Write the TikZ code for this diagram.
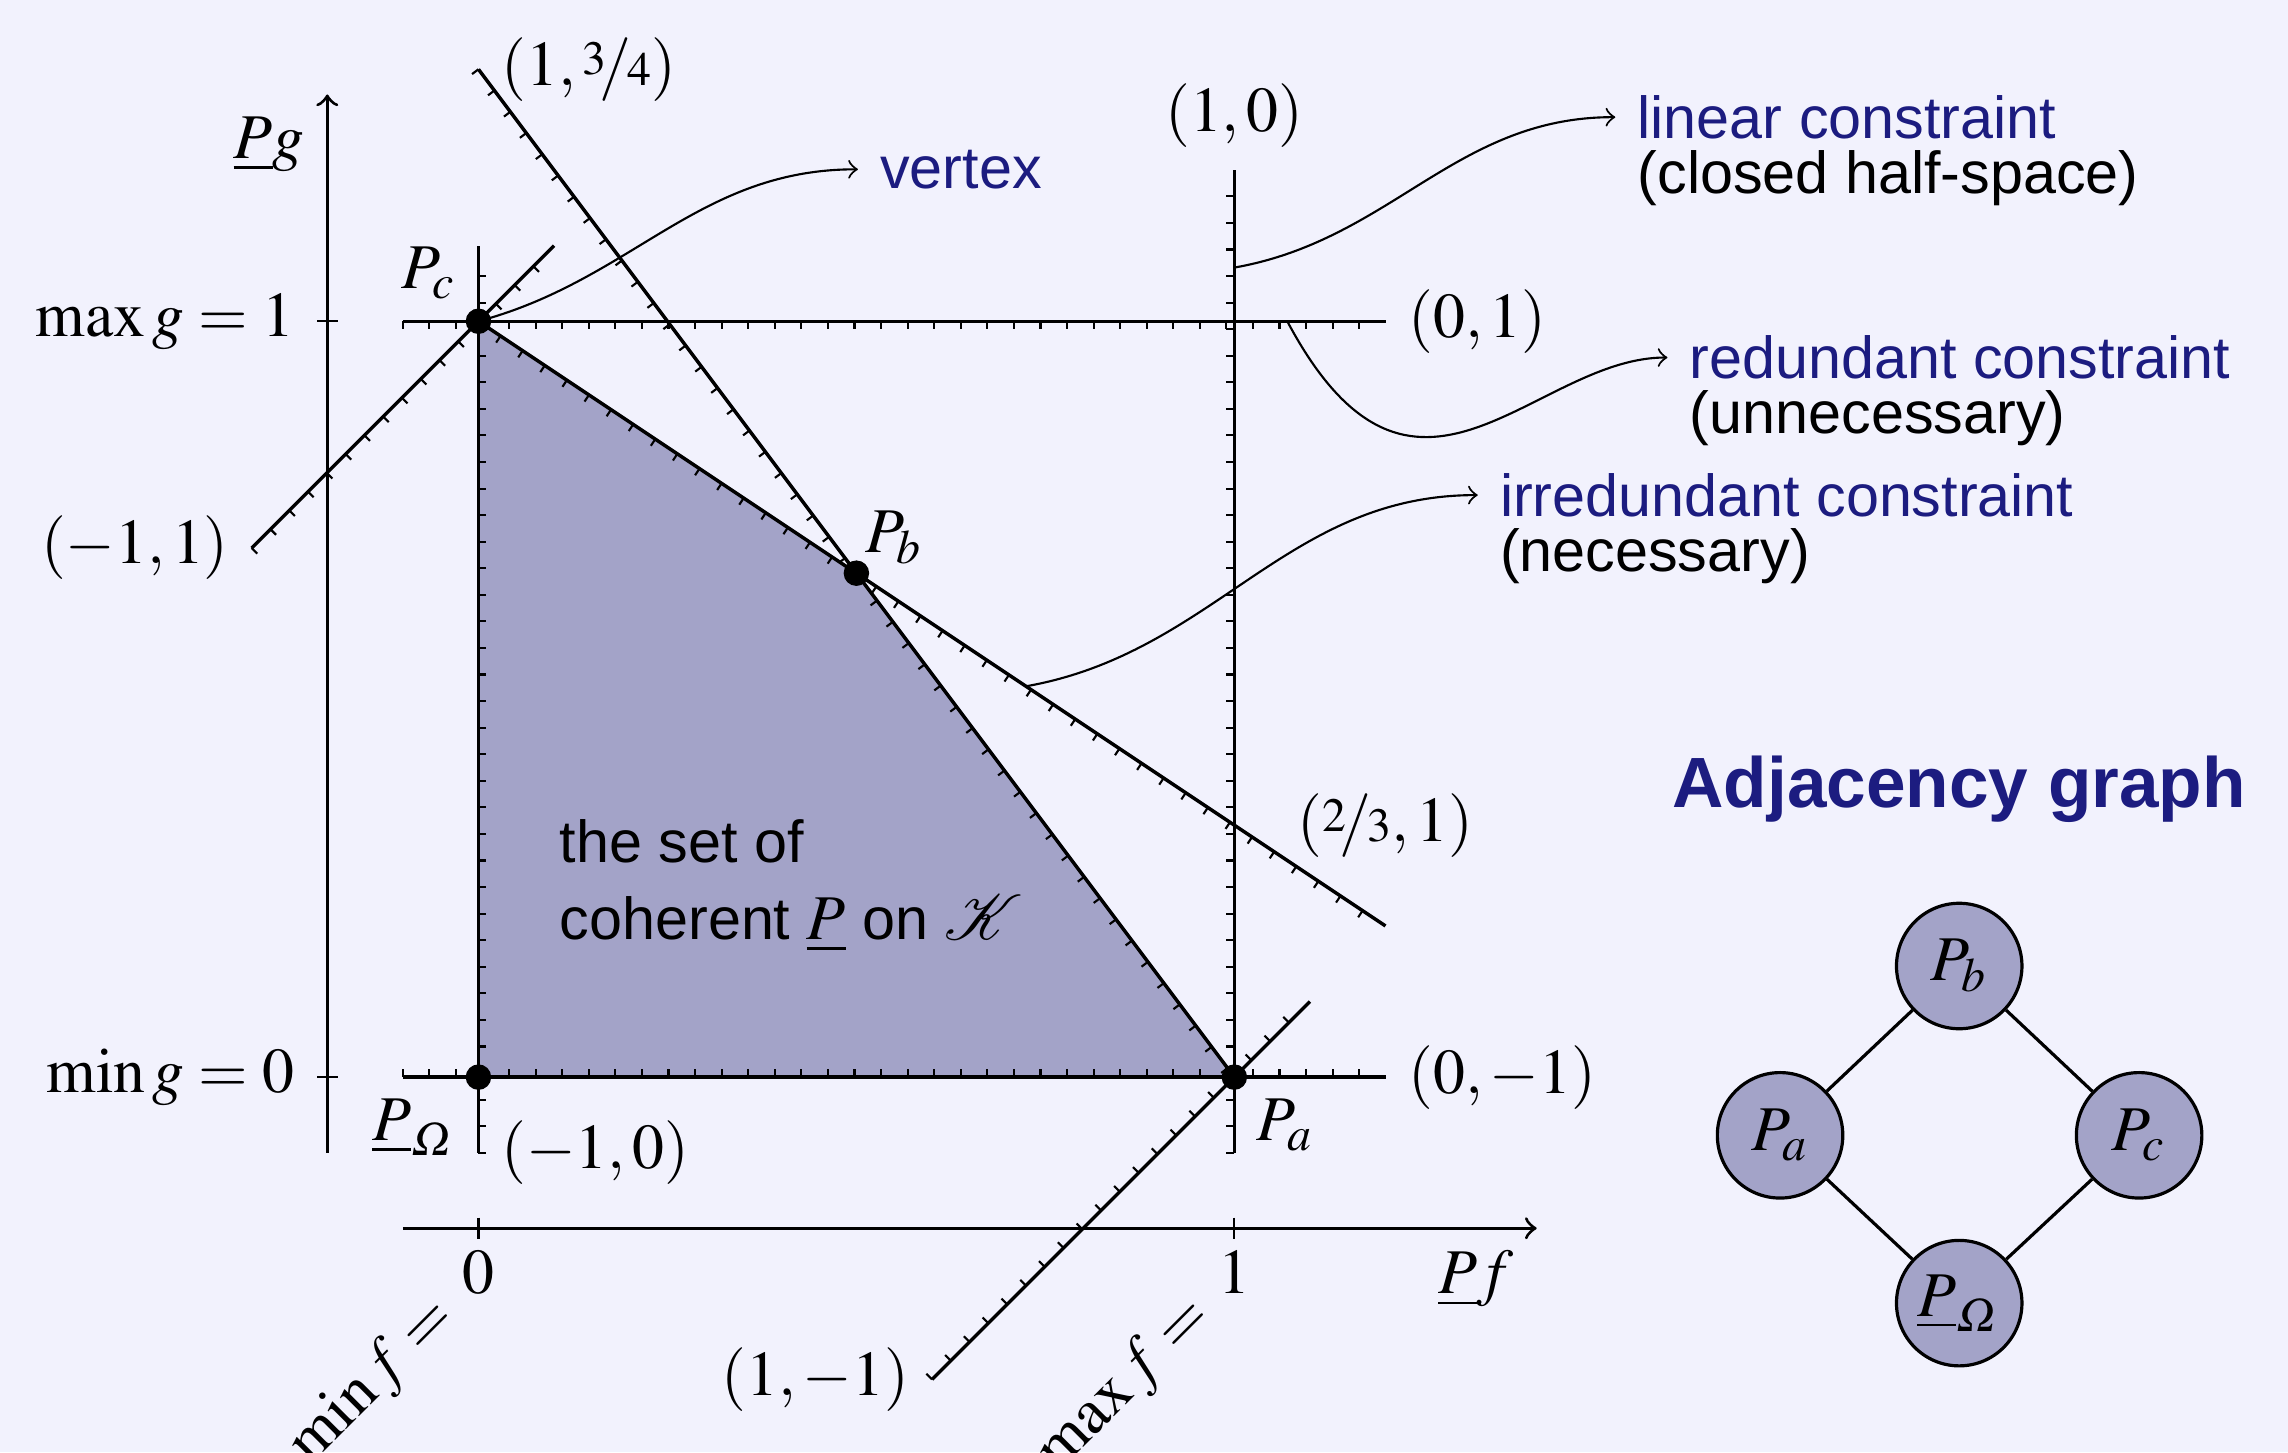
\documentclass[12pt,tikz,border=0pt]{standalone}
\usepackage[no-math]{fontspec}
\setsansfont{Liberation Sans}[Scale=0.93]
\usepackage[slantedGreek]{mathptmx}
\usepackage{mathrsfs}
\usepackage{nicefrac}
\usetikzlibrary{decorations.pathreplacing,calc}
\definecolor{bgcol}{RGB}{242,242,253}
\definecolor{setcol}{RGB}{163,163,200}
\definecolor{notecol}{RGB}{28,28,128}

\begin{document}
\begin{tikzpicture}[x=5cm,y=5cm,
  axis/.style={->,semithick},
  hatchl/.style={line width=0.65pt,postaction={draw,thin,decorate,decoration={border,segment length=5pt,amplitude=1.5pt,angle=90}}},
  hatchr/.style={line width=0.65pt,postaction={draw,thin,decorate,decoration={border,segment length=5pt,amplitude=1.5pt,angle=-90}}},
  note/.style={font=\sffamily,text=notecol},
  sub/.style={font=\sffamily},
  annot/.style={->,thin},
  vert/.style={circle,draw,semithick,fill=setcol,minimum size=0.83cm,inner sep=0pt}]
\path[use as bounding box,fill=bgcol] (-0.633,-0.496) rectangle (2.394,1.425);

\coordinate (Po) at (0,0); \coordinate (Pa) at (1,0);
\coordinate (Pb) at (0.5,0.6667); \coordinate (Pc) at (0,1);
\fill[setcol] (Po)--(Pc)--(Pb)--(Pa)--cycle;

% axes
\draw[axis] (-0.1,-0.2)--(1.4,-0.2) node[below left] (xlab) {$\underline{P}f$};
\draw[axis] (-0.2,-0.1)--(-0.2,1.3) node[below left] (ylab) {$\underline{P}g$};
\draw[thin] (-0.2,1) ++(2pt,0)--++(-4pt,0) node[left] (gmax) {$\max g=1$};
\draw[thin] (-0.2,0) ++(2pt,0)--++(-4pt,0) node[left] (gmin) {$\min g=0$};
\draw[thin] (0,-0.2) ++(0,2pt)--++(0,-4pt) node[below,inner sep=2pt] (fmin) {$0$};
\draw[thin] (1,-0.2) ++(0,2pt)--++(0,-4pt) node[below,inner sep=2pt] (fmax) {$1$};
\node[rotate=45,anchor=east] (fminlab) at (-0.022,-0.285) {$\min f=$};
\node[rotate=45,anchor=east] (fmaxlab) at (0.978,-0.285) {$\max f=$};

% constraints
\draw[hatchr] (0,-0.1) node[right] (c1) {$(-1,0)$}--(0,1.1);
\draw[hatchl] (1,-0.1)--(1,1.2) node[above] (c2) {$(1,0)$};
\draw[hatchr] (-0.1,1)--(1.2,1) node[right] (c3) {$(0,1)$};
\draw[hatchl] (-0.1,0)--(1.2,0) node[right] (c4) {$(0,-1)$};
\draw[hatchr] (-0.3,0.7) node[left] (c5) {$(-1,1)$}--(0.1,1.1);
\draw[hatchl] (0.6,-0.4) node[left] (c6) {$(1,-1)$}--(1.1,0.1);
\draw[hatchr] (Pc)--(1.2,0.2) node[above=3mm] (c7) {$(\nicefrac{2}{3},1)$};
\draw[hatchr] (0,4/3) node[right] (c8) {$(1,\nicefrac{3}{4})$}--(Pa);

\fill (Po) circle (2.4pt) node[below left] (lPo) {$\underline{P}_{\Omega}$};
\fill (Pa) circle (2.4pt) node[below right] (lPa) {$P_a$};
\fill (Pb) circle (2.4pt) node[above right,inner sep=1.5pt] (lPb) {$P_b$};
\fill (Pc) circle (2.4pt) node[above left] (lPc) {$P_c$};

\node[sub,align=left,anchor=west] (set) at (0.078,0.253) {the set of\\coherent $\underline{P}$ on $\mathscr{K}$};

% notes
\coordinate (onlin) at (1,1.071);
\coordinate (onred) at (1.07,1);
\coordinate (onirr) at (0.724,0.517);
\node[note,anchor=west] (vtx) at (0.502,1.201) {vertex};
\node[note,anchor=west] (lin) at (1.504,1.270) {linear constraint};
\node[sub,anchor=base west] (linsub) at ([yshift=-10.4pt]lin.base west) {(closed half-space)};
\node[note,anchor=west] (red) at (1.573,0.952) {redundant constraint};
\node[sub,anchor=base west] (redsub) at ([yshift=-10.4pt]red.base west) {(unnecessary)};
\node[note,anchor=west] (irr) at (1.322,0.770) {irredundant constraint};
\node[sub,anchor=base west] (irrsub) at ([yshift=-10.4pt]irr.base west) {(necessary)};
\draw[annot] (Pc) to[out=15,in=180] (vtx.west);
\draw[annot] (onlin) to[out=10,in=180] (lin.west);
\draw[annot] (onred) to[out=-62,in=180,out looseness=1.8,in looseness=0.9] (red.west);
\draw[annot] (onirr) to[out=10,in=180] (irr.west);

% adjacency graph
\node[font=\sffamily\bfseries\large,text=notecol] (adj) at (1.959,0.381) {Adjacency graph};
\node[vert] (gb) at (1.959,0.147) {$P_b$};
\node[vert] (ga) at (1.722,-0.077) {$P_a$};
\node[vert] (gc) at (2.197,-0.077) {$P_c$};
\node[vert] (go) at (1.959,-0.299) {$\underline{P}_{\Omega}$};
\draw[semithick] (ga)--(gb)--(gc)--(go)--(ga);
\end{tikzpicture}
\end{document}
